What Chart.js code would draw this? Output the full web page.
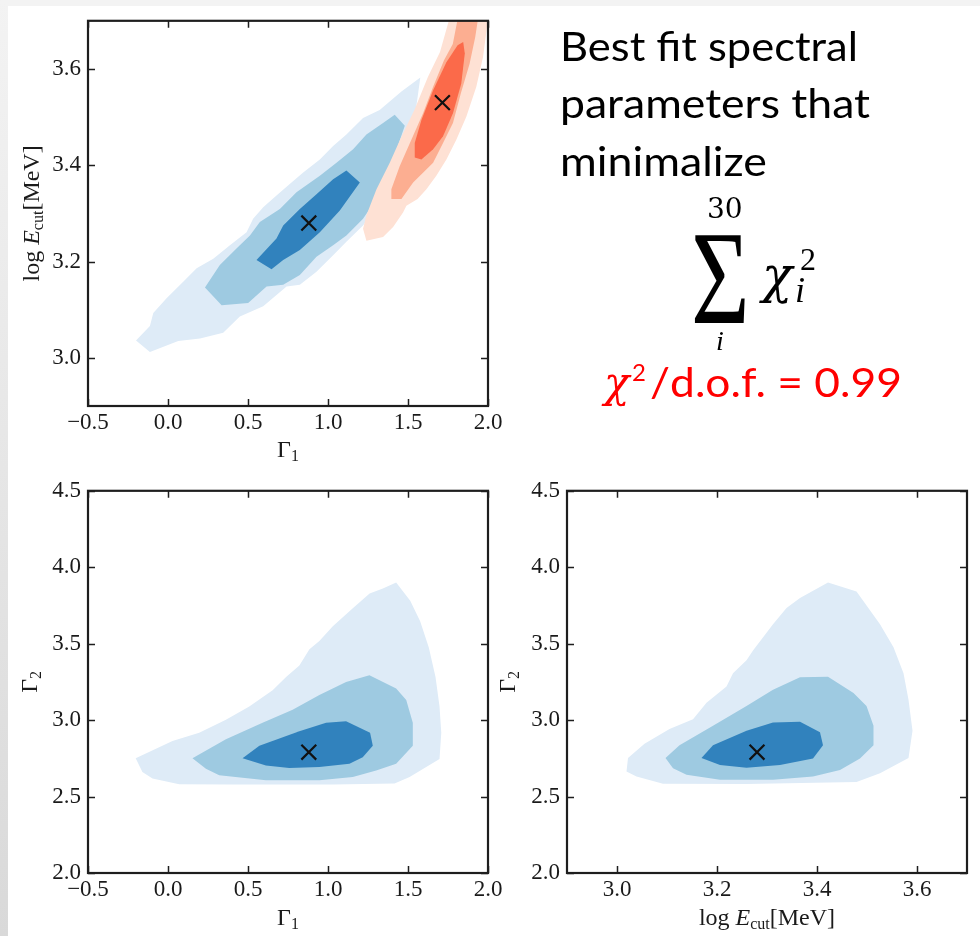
<!DOCTYPE html>
<html>
<head>
<meta charset="utf-8">
<script src="https://cdn.jsdelivr.net/npm/chart.js@4.4.0/dist/chart.umd.min.js"></script>
<style>
html,body{margin:0;padding:0;background:#fff;}
#page{position:relative;width:980px;height:936px;overflow:hidden;background:#fff;}
#topstrip{position:absolute;left:0;top:0;width:980px;height:6px;background:#f3f3f3;}
#leftstrip{position:absolute;left:0;top:0;width:8px;height:936px;background:linear-gradient(#f3f3f3,#d9d9d9);}
canvas{position:absolute;}
svg{position:absolute;left:0;top:0;pointer-events:none;}
</style>
</head>
<body>
<div id="page">
  <div id="topstrip"></div>
  <div id="leftstrip"></div>
  <canvas id="cTop" width="520" height="470" style="left:0;top:0"></canvas>
  <canvas id="cG1G2" width="520" height="466" style="left:0;top:470px"></canvas>
  <canvas id="cEG2" width="500" height="466" style="left:480px;top:470px"></canvas>
  <svg width="980" height="936">
    <text x="560" y="61" font-family="Lato" font-size="40" textLength="298" lengthAdjust="spacingAndGlyphs">Best fit spectral</text>
    <text x="560" y="118" font-family="Lato" font-size="40" textLength="310" lengthAdjust="spacingAndGlyphs">parameters that</text>
    <text x="560" y="176" font-family="Lato" font-size="40" textLength="207" lengthAdjust="spacingAndGlyphs">minimalize</text>
    <text x="707" y="218" font-family="DejaVu Serif" font-size="28">30</text>
    <text transform="translate(691,323) scale(1.05,1.4)" x="0" y="0" font-family="Liberation Serif" font-size="96">Σ</text>
    <text x="762" y="292" font-family="DejaVu Serif" font-style="italic" font-size="50">χ</text>
    <text x="800" y="270" font-family="Liberation Serif" font-size="32">2</text>
    <text x="795" y="302" font-family="Liberation Serif" font-style="italic" font-size="36">i</text>
    <text x="716" y="350" font-family="Liberation Serif" font-style="italic" font-size="28">i</text>
    <text fill="#ff0000"><tspan x="604" y="397" font-family="DejaVu Serif" font-style="italic" font-size="42">χ</tspan><tspan x="632" y="381" font-family="Lato" font-size="24">2</tspan><tspan x="650" y="397" font-family="Lato" font-size="40" textLength="252" lengthAdjust="spacingAndGlyphs">/d.o.f. = 0.99</tspan></text>
  </svg>
</div>
<script>
// ---------- axis ranges and ticks ----------
const G1_RANGE = [-0.5, 2.0];
const ECUT_RANGE = [2.9, 3.7];
const G2_RANGE = [2.0, 4.5];
const G1_TICKS = [-0.5, 0.0, 0.5, 1.0, 1.5, 2.0];
const ECUT_TICKS = [3.0, 3.2, 3.4, 3.6];
const G2_TICKS = [2.0, 2.5, 3.0, 3.5, 4.0, 4.5];

// ---------- colours ----------
const BLUES = ['#deebf7', '#9ecae1', '#3182bd'];
const REDS = ['#fee1d4', '#fcae91', '#fb6a4a'];

// ---------- best-fit points ----------
const BEST_BLUE_G1 = 0.88, BEST_BLUE_ECUT = 3.28, BEST_BLUE_G2 = 2.79;
const BEST_RED_G1 = 1.715, BEST_RED_ECUT = 3.53;

// ---------- contours: Gamma1 vs log Ecut (blue) ----------
const g1EcutBlueOuter = [[-0.20,3.036],[-0.113,3.012],[0.064,3.035],[0.20,3.040],[0.345,3.052],[0.449,3.086],[0.595,3.107],[0.741,3.148],[0.824,3.152],[0.928,3.179],[1.032,3.213],[1.115,3.241],[1.219,3.275],[1.344,3.33],[1.448,3.392],[1.532,3.474],[1.577,3.582],[1.459,3.553],[1.323,3.515],[1.219,3.498],[1.115,3.464],[1.032,3.44],[0.949,3.412],[0.845,3.385],[0.761,3.361],[0.678,3.337],[0.595,3.313],[0.532,3.289],[0.491,3.261],[0.387,3.234],[0.283,3.206],[0.179,3.186],[0.095,3.158],[-0.009,3.124],[-0.092,3.093],[-0.113,3.066]];
const g1EcutBlueMid = [[0.231,3.146],[0.335,3.109],[0.501,3.114],[0.616,3.148],[0.72,3.152],[0.824,3.172],[0.928,3.21],[1.032,3.234],[1.115,3.254],[1.219,3.289],[1.344,3.35],[1.48,3.482],[1.417,3.505],[1.344,3.488],[1.24,3.464],[1.157,3.433],[1.053,3.405],[0.949,3.378],[0.803,3.344],[0.699,3.309],[0.574,3.282],[0.512,3.254],[0.428,3.227],[0.324,3.193]];
const g1EcutBlueIn = [[0.553,3.203],[0.647,3.184],[0.72,3.203],[0.824,3.224],[0.949,3.261],[1.074,3.306],[1.199,3.364],[1.115,3.389],[1.032,3.371],[0.928,3.34],[0.824,3.309],[0.72,3.275],[0.678,3.248]];
// ---------- contours: Gamma1 vs log Ecut (red) ----------
const g1EcutRedOuter = [[1.219,3.268],[1.24,3.243],[1.344,3.251],[1.407,3.272],[1.469,3.302],[1.49,3.316],[1.56,3.33],[1.615,3.35],[1.677,3.378],[1.74,3.412],[1.802,3.453],[1.865,3.501],[1.927,3.563],[1.969,3.625],[1.995,3.69],[2.01,3.75],[1.78,3.75],[1.755,3.70],[1.70,3.635],[1.625,3.584],[1.54,3.515],[1.46,3.46],[1.386,3.405],[1.303,3.35],[1.24,3.296]];
const g1EcutRedMid = [[1.396,3.33],[1.459,3.33],[1.532,3.364],[1.657,3.405],[1.719,3.446],[1.781,3.488],[1.83,3.549],[1.885,3.611],[1.92,3.666],[1.945,3.72],[1.82,3.72],[1.78,3.652],[1.725,3.618],[1.657,3.563],[1.594,3.508],[1.521,3.453],[1.448,3.398],[1.396,3.35]];
const g1EcutRedIn = [[1.845,3.656],[1.855,3.632],[1.833,3.57],[1.781,3.508],[1.719,3.46],[1.657,3.433],[1.584,3.412],[1.542,3.416],[1.542,3.446],[1.584,3.494],[1.657,3.556],[1.74,3.614],[1.81,3.649]];

// ---------- contours: Gamma1 vs Gamma2 ----------
const g1G2Outer = [[-0.202,2.75],[-0.16,2.66],[-0.097,2.618],[0.07,2.581],[0.404,2.579],[1.03,2.579],[1.416,2.585],[1.51,2.628],[1.697,2.746],[1.708,2.918],[1.697,3.089],[1.672,3.282],[1.63,3.475],[1.576,3.647],[1.514,3.78],[1.426,3.9],[1.343,3.861],[1.26,3.829],[1.155,3.732],[1.03,3.614],[0.946,3.518],[0.884,3.464],[0.821,3.357],[0.738,3.282],[0.654,3.196],[0.508,3.089],[0.362,3.003],[0.195,2.918],[0.028,2.864]];
const g1G2Mid = [[0.153,2.75],[0.237,2.682],[0.32,2.639],[0.612,2.607],[0.946,2.607],[1.155,2.628],[1.301,2.671],[1.426,2.714],[1.53,2.832],[1.53,2.982],[1.489,3.132],[1.426,3.207],[1.259,3.293],[1.113,3.25],[0.946,3.164],[0.779,3.068],[0.591,2.982],[0.362,2.875]];
const g1G2In = [[0.466,2.75],[0.612,2.703],[0.758,2.686],[0.946,2.693],[1.134,2.714],[1.217,2.757],[1.28,2.832],[1.263,2.918],[1.113,2.993],[0.988,2.982],[0.821,2.928],[0.571,2.832]];

// ---------- contours: log Ecut vs Gamma2 ----------
const eG2Outer = [[3.022,2.753],[3.019,2.664],[3.039,2.631],[3.092,2.584],[3.259,2.582],[3.479,2.595],[3.526,2.653],[3.583,2.753],[3.591,2.931],[3.583,3.134],[3.573,3.306],[3.553,3.477],[3.526,3.627],[3.479,3.841],[3.422,3.901],[3.366,3.798],[3.339,3.734],[3.312,3.627],[3.272,3.455],[3.259,3.391],[3.232,3.306],[3.219,3.22],[3.179,3.113],[3.152,3.006],[3.105,2.942],[3.055,2.846]];
const eG2Mid = [[3.097,2.753],[3.112,2.685],[3.139,2.642],[3.206,2.61],[3.312,2.61],[3.392,2.631],[3.446,2.674],[3.486,2.749],[3.513,2.835],[3.513,2.963],[3.499,3.092],[3.473,3.177],[3.422,3.284],[3.366,3.28],[3.312,3.199],[3.259,3.092],[3.192,2.963],[3.125,2.835]];
const eG2In = [[3.169,2.753],[3.206,2.706],[3.259,2.689],[3.326,2.706],[3.392,2.749],[3.412,2.835],[3.406,2.92],[3.366,2.989],[3.312,2.984],[3.259,2.931],[3.192,2.835]];

// ---------- axis titles (rich text pieces) ----------
const TITLE_G1 = [{t:'Γ', s:24}, {t:'1', s:16, dy:4}];
const TITLE_G2 = [{t:'Γ', s:24}, {t:'2', s:16, dy:4}];
const TITLE_ECUT = [{t:'log ', s:24}, {t:'E', s:24, it:true}, {t:'cut', s:16, dy:4}, {t:'[MeV]', s:24}];

Chart.defaults.font.family = 'Liberation Serif';
Chart.defaults.color = '#1a1a1a';

function fmtTick(v){ return (v < 0 ? '\u2212' : '') + Math.abs(v).toFixed(1); }

function drawRich(ctx, pieces, cx, base, rot){
  ctx.save();
  ctx.translate(cx, base);
  ctx.rotate(rot);
  ctx.fillStyle = '#1a1a1a';
  ctx.textBaseline = 'alphabetic';
  const font = p => (p.it ? 'italic ' : '') + p.s + 'px "Liberation Serif"';
  let total = 0;
  const ws = pieces.map(p => { ctx.font = font(p); const w = ctx.measureText(p.t).width; total += w; return w; });
  let x = -total / 2;
  pieces.forEach((p, i) => { ctx.font = font(p); ctx.fillText(p.t, x, p.dy || 0); x += ws[i]; });
  ctx.restore();
}

const framePlugin = {
  id: 'frame',
  afterDraw(chart, args, o){
    const ctx = chart.ctx, a = chart.chartArea, xs = chart.scales.x, ys = chart.scales.y;
    ctx.save();
    ctx.strokeStyle = '#1e1e1e';
    ctx.lineWidth = 1.5;
    ctx.beginPath();
    xs.ticks.forEach(t => {
      const p = Math.round(xs.getPixelForValue(t.value)) + 0.5;
      ctx.moveTo(p, a.bottom); ctx.lineTo(p, a.bottom - 7);
      ctx.moveTo(p, a.top); ctx.lineTo(p, a.top + 7);
    });
    ys.ticks.forEach(t => {
      const p = Math.round(ys.getPixelForValue(t.value)) + 0.5;
      ctx.moveTo(a.left, p); ctx.lineTo(a.left + 7, p);
      ctx.moveTo(a.right, p); ctx.lineTo(a.right - 7, p);
    });
    ctx.stroke();
    ctx.lineWidth = 2.2;
    ctx.strokeRect(a.left, a.top, a.right - a.left, a.bottom - a.top);
    ctx.restore();
    drawRich(ctx, o.xTitle, (a.left + a.right) / 2, o.xBase, 0);
    drawRich(ctx, o.yTitle, o.yBase, (a.top + a.bottom) / 2, -Math.PI / 2);
  }
};

function contourSets(polys, colors, orderBase){
  return polys.map((p, i) => ({
    data: p, backgroundColor: colors[i], borderColor: 'rgba(0,0,0,0)', borderWidth: 0,
    pointRadius: 0, pointHoverRadius: 0, fill: 'shape', tension: 0, order: orderBase - i
  }));
}
function markerSet(points){
  return { data: points, showLine: false, pointStyle: 'crossRot', pointRadius: 10.5, pointHoverRadius: 10.5,
    pointBorderWidth: 2.2, pointBorderColor: '#111', pointBackgroundColor: '#111', borderColor: '#111', order: 0 };
}

function axis(range, ticks, fitSize, isX){
  const s = {
    type: 'linear', min: range[0], max: range[1],
    grid: { display: false, drawTicks: false }, border: { display: false },
    afterBuildTicks: sc => { sc.ticks = ticks.map(v => ({ value: v })); },
    ticks: { font: { size: 23 }, color: '#1a1a1a', padding: isX ? 3 : 7, maxRotation: 0, autoSkip: false, callback: v => fmtTick(v) }
  };
  s.afterFit = isX ? (sc => { sc.height = fitSize; }) : (sc => { sc.width = fitSize; });
  return s;
}

function makeChart(id, datasets, xr, xt, yr, yt, pad, xH, yW, titles){
  new Chart(document.getElementById(id), {
    type: 'line',
    data: { datasets },
    options: {
      responsive: false, animation: false, devicePixelRatio: 1,
      layout: { padding: pad },
      plugins: { legend: { display: false }, tooltip: { enabled: false }, frame: titles },
      events: [],
      scales: { x: axis(xr, xt, xH, true), y: axis(yr, yt, yW, false) }
    },
    plugins: [framePlugin]
  });
}

// top chart: Gamma1 vs log Ecut
makeChart('cTop',
  [markerSet([[BEST_BLUE_G1, BEST_BLUE_ECUT], [BEST_RED_G1, BEST_RED_ECUT]])]
    .concat(contourSets([g1EcutRedOuter, g1EcutRedMid, g1EcutRedIn], REDS, 6))
    .concat(contourSets([g1EcutBlueOuter, g1EcutBlueMid, g1EcutBlueIn], BLUES, 10)),
  G1_RANGE, G1_TICKS, ECUT_RANGE, ECUT_TICKS,
  { left: 0, top: 16, right: 32, bottom: 0 }, 64, 88,
  { xTitle: TITLE_G1, xBase: 457, yTitle: TITLE_ECUT, yBase: 39 });

// bottom-left: Gamma1 vs Gamma2
makeChart('cG1G2',
  [markerSet([[BEST_BLUE_G1, BEST_BLUE_G2]])].concat(contourSets([g1G2Outer, g1G2Mid, g1G2In], BLUES, 10)),
  G1_RANGE, G1_TICKS, G2_RANGE, G2_TICKS,
  { left: 0, top: 14, right: 32, bottom: 0 }, 63, 88,
  { xTitle: TITLE_G1, xBase: 455, yTitle: TITLE_G2, yBase: 37 });

// bottom-right: log Ecut vs Gamma2
makeChart('cEG2',
  [markerSet([[BEST_BLUE_ECUT, BEST_BLUE_G2]])].concat(contourSets([eG2Outer, eG2Mid, eG2In], BLUES, 10)),
  ECUT_RANGE, ECUT_TICKS, G2_RANGE, G2_TICKS,
  { left: 0, top: 14, right: 13, bottom: 0 }, 63, 87,
  { xTitle: TITLE_ECUT, xBase: 455, yTitle: TITLE_G2, yBase: 35 });
</script>
</body>
</html>
